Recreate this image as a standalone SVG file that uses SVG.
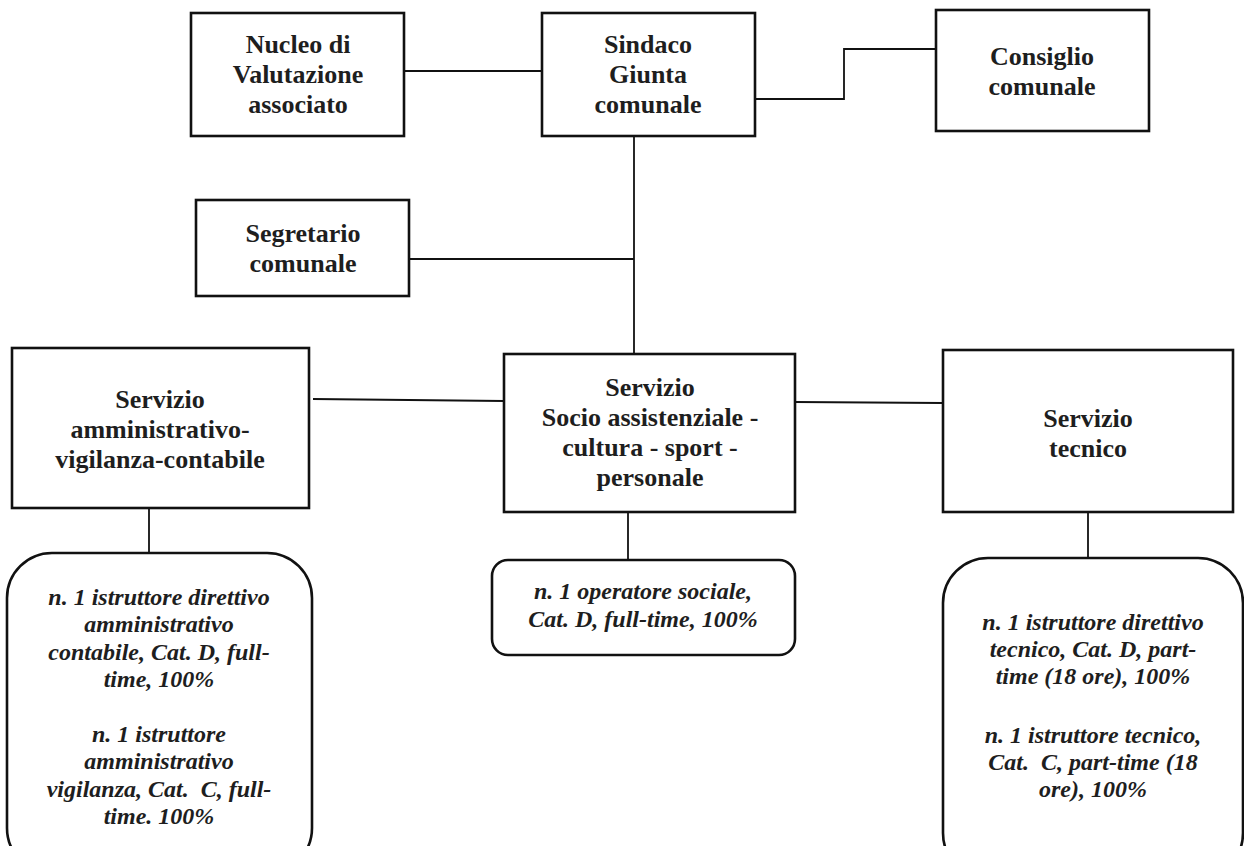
<svg xmlns="http://www.w3.org/2000/svg" width="1244" height="846" viewBox="0 0 1244 846">
<style>
.box{fill:#fff;stroke:#111;stroke-width:2.6}
.ln{fill:none;stroke:#111;stroke-width:1.8}
.t{font-family:"Liberation Serif","Times New Roman",serif;font-weight:bold;font-size:26px;fill:#1e1e1e;text-anchor:middle}
.s{font-family:"Liberation Serif","Times New Roman",serif;font-weight:bold;font-style:italic;font-size:24px;fill:#1e1e1e;text-anchor:middle;white-space:pre}
</style>
<rect width="1244" height="846" fill="#fff"/>
<g id="connectors">
<line class="ln" x1="404" y1="71" x2="542" y2="71"/>
<polyline class="ln" points="755,99 844,99 844,49 936,49"/>
<line class="ln" x1="634" y1="136" x2="634" y2="354"/>
<line class="ln" x1="409" y1="259" x2="634" y2="259"/>
<line class="ln" x1="313" y1="399" x2="504" y2="401"/>
<line class="ln" x1="795" y1="402" x2="943" y2="403"/>
<line class="ln" x1="149" y1="508" x2="149" y2="553"/>
<line class="ln" x1="628" y1="512" x2="628" y2="560"/>
<line class="ln" x1="1088" y1="512" x2="1088" y2="558"/>
</g>
<g id="nucleo">
<rect class="box" x="191" y="13" width="213" height="123"/>
<text class="t" x="298" y="53">Nucleo di</text>
<text class="t" x="298" y="83">Valutazione</text>
<text class="t" x="298" y="113">associato</text>
</g>
<g id="sindaco">
<rect class="box" x="542" y="13" width="213" height="123"/>
<text class="t" x="648" y="53">Sindaco</text>
<text class="t" x="648" y="83">Giunta</text>
<text class="t" x="648" y="113">comunale</text>
</g>
<g id="consiglio">
<rect class="box" x="936" y="10" width="213" height="121"/>
<text class="t" x="1042" y="65">Consiglio</text>
<text class="t" x="1042" y="95">comunale</text>
</g>
<g id="segretario">
<rect class="box" x="196" y="200" width="213" height="96"/>
<text class="t" x="303" y="242">Segretario</text>
<text class="t" x="303" y="272">comunale</text>
</g>
<g id="servizio-amm">
<rect class="box" x="12" y="348" width="297" height="160"/>
<text class="t" x="160" y="408">Servizio</text>
<text class="t" x="160" y="438">amministrativo-</text>
<text class="t" x="160" y="468">vigilanza-contabile</text>
</g>
<g id="servizio-socio">
<rect class="box" x="504" y="354" width="291" height="158"/>
<text class="t" x="650" y="396">Servizio</text>
<text class="t" x="650" y="426">Socio assistenziale -</text>
<text class="t" x="650" y="456">cultura - sport -</text>
<text class="t" x="650" y="486">personale</text>
</g>
<g id="servizio-tecnico">
<rect class="box" x="943" y="350" width="290" height="162"/>
<text class="t" x="1088" y="427">Servizio</text>
<text class="t" x="1088" y="457">tecnico</text>
</g>
<g id="staff-amm">
<rect class="box" x="7" y="553" width="305" height="320" rx="45" ry="45"/>
<text class="s" x="159" y="605">n. 1 istruttore direttivo</text>
<text class="s" x="159" y="632">amministrativo</text>
<text class="s" x="159" y="660">contabile, Cat. D, full-</text>
<text class="s" x="159" y="687">time, 100%</text>
<text class="s" x="159" y="742">n. 1 istruttore</text>
<text class="s" x="159" y="769">amministrativo</text>
<text class="s" x="159" y="797" xml:space="preserve">vigilanza, Cat.  C, full-</text>
<text class="s" x="159" y="824">time. 100%</text>
</g>
<g id="staff-socio">
<rect class="box" x="492" y="560" width="303" height="95" rx="16" ry="16"/>
<text class="s" x="643" y="599">n. 1 operatore sociale,</text>
<text class="s" x="643" y="627">Cat. D, full-time, 100%</text>
</g>
<g id="staff-tecnico">
<rect class="box" x="943" y="558" width="300" height="320" rx="45" ry="45"/>
<text class="s" x="1093" y="630">n. 1 istruttore direttivo</text>
<text class="s" x="1093" y="657">tecnico, Cat. D, part-</text>
<text class="s" x="1093" y="684">time (18 ore), 100%</text>
<text class="s" x="1093" y="743">n. 1 istruttore tecnico,</text>
<text class="s" x="1093" y="770" xml:space="preserve">Cat.  C, part-time (18</text>
<text class="s" x="1093" y="797">ore), 100%</text>
</g>
</svg>
